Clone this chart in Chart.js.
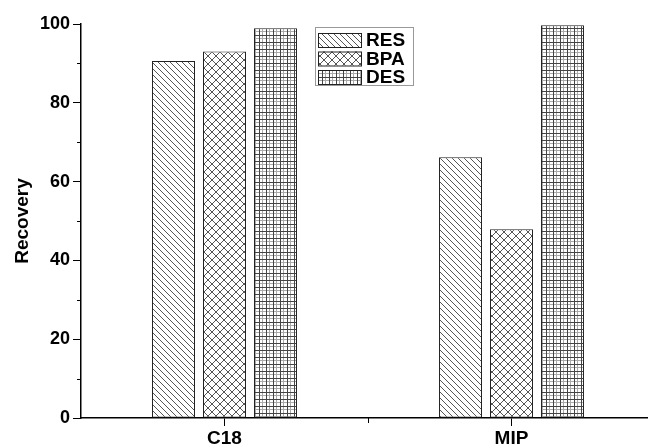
<!DOCTYPE html>
<html>
<head>
<meta charset="utf-8">
<script src="https://cdn.jsdelivr.net/npm/chart.js@4"></script>
<style>
  html, body { margin: 0; padding: 0; background: #fff; overflow: hidden; }
  #chart { display: block; }
</style>
</head>
<body>
<canvas id="chart" width="656" height="448"></canvas>
<script>
var categories = ["C18", "MIP"];
var seriesNames = ["RES", "BPA", "DES"];
var resValues = [90.6, 66.2];
var bpaValues = [93.0, 47.9];
var desValues = [98.9, 99.7];
var yTicks = [0, 20, 40, 60, 80, 100];

var font = "'Liberation Sans', Arial, sans-serif";

// small tiles for the hatch fills
function makePattern(kind) {
  var c = document.createElement("canvas");
  var ctx = c.getContext("2d");
  var s;
  if (kind == "diag") {
    s = 6;
    c.width = s; c.height = s;
    ctx.fillStyle = "#fff";
    ctx.fillRect(0, 0, s, s);
    ctx.strokeStyle = "#555";
    ctx.lineWidth = 1;
    ctx.beginPath();
    ctx.moveTo(-1, -1); ctx.lineTo(s + 1, s + 1);
    ctx.moveTo(-1, s - 1); ctx.lineTo(1, s + 1);
    ctx.moveTo(s - 1, -1); ctx.lineTo(s + 1, 1);
    ctx.stroke();
  } else if (kind == "cross") {
    s = 8;
    c.width = s; c.height = s;
    ctx.fillStyle = "#fff";
    ctx.fillRect(0, 0, s, s);
    ctx.strokeStyle = "#555";
    ctx.lineWidth = 1;
    ctx.beginPath();
    ctx.moveTo(0, 0); ctx.lineTo(s, s);
    ctx.moveTo(s, 0); ctx.lineTo(0, s);
    ctx.stroke();
  } else {
    s = 7;
    c.width = s; c.height = s;
    ctx.fillStyle = "#fff";
    ctx.fillRect(0, 0, s, s);
    ctx.fillStyle = "#aaa";
    ctx.fillRect(0, 3, s, 1);
    ctx.fillRect(3, 0, 1, s);
    ctx.fillStyle = "#444";
    ctx.fillRect(0, 0, s, 1);
    ctx.fillRect(0, 0, 1, s);
  }
  return ctx.createPattern(c, "repeat");
}

var fills = [makePattern("diag"), makePattern("cross"), makePattern("grid")];

// minor ticks on both axes + boxed legend inside the plot
var extras = {
  id: "extras",
  afterDraw: function (chart) {
    var ctx = chart.ctx;
    var x = chart.scales.x;
    var y = chart.scales.y;
    ctx.save();
    ctx.strokeStyle = "#000";
    ctx.lineWidth = 1;
    ctx.beginPath();
    for (var v = 10; v < 100; v += 20) {
      var py = Math.round(y.getPixelForValue(v)) + 0.5;
      ctx.moveTo(x.left - 4, py);
      ctx.lineTo(x.left, py);
    }
    var mid = Math.round((x.getPixelForValue(0) + x.getPixelForValue(1)) / 2) + 0.5;
    ctx.moveTo(mid, y.bottom);
    ctx.lineTo(mid, y.bottom + 5);
    ctx.stroke();

    // legend
    var lx = 315, ly = 27;
    ctx.strokeStyle = "#999";
    ctx.strokeRect(lx + 0.5, ly + 0.5, 98, 58);
    ctx.font = "bold 19px " + font;
    ctx.textBaseline = "middle";
    chart.data.datasets.forEach(function (ds, i) {
      var cy = 40 + i * 18.5;
      ctx.fillStyle = ds.backgroundColor;
      ctx.fillRect(318, cy - 7, 43, 14);
      ctx.strokeStyle = "#222";
      ctx.strokeRect(318.5, cy - 6.5, 43, 14);
      ctx.fillStyle = "#000";
      ctx.fillText(ds.label, 366, cy + 1);
    });
    ctx.restore();
  },
};

var chart = document.getElementById("chart");

new Chart(chart, {
  type: "bar",
  data: {
    labels: categories,
    datasets: [
      { label: seriesNames[0], data: resValues, backgroundColor: fills[0] },
      { label: seriesNames[1], data: bpaValues, backgroundColor: fills[1] },
      { label: seriesNames[2], data: desValues, backgroundColor: fills[2] },
    ],
  },
  options: {
    responsive: false,
    animation: false,
    layout: { padding: { top: 24, right: 1, left: 0, bottom: 0 } },
    datasets: {
      bar: {
        categoryPercentage: 0.533,
        barPercentage: 0.843,
        borderColor: "#222",
        borderWidth: 1,
        borderSkipped: false,
      },
    },
    plugins: {
      legend: { display: false },
      tooltip: { enabled: false },
    },
    scales: {
      x: {
        grid: {
          offset: false,
          drawOnChartArea: false,
          tickLength: 8,
          tickColor: "#000",
        },
        border: { display: true, color: "#000", width: 1.5 },
        ticks: {
          color: "#000",
          padding: 1,
          font: { family: font, size: 19, weight: "bold" },
        },
        afterFit: function (scale) {
          scale.height = 30;
        },
      },
      y: {
        min: 0,
        max: 100,
        afterBuildTicks: function (scale) {
          scale.ticks = yTicks.map(function (v) {
            return { value: v };
          });
        },
        grid: {
          drawOnChartArea: false,
          tickLength: 8,
          tickColor: "#000",
        },
        border: { display: true, color: "#000", width: 1.5 },
        ticks: {
          color: "#000",
          padding: 3,
          font: { family: font, size: 18, weight: "bold" },
        },
        title: {
          display: true,
          text: "Recovery",
          color: "#000",
          padding: { top: 11, bottom: 0 },
          font: { family: font, size: 19, weight: "bold" },
        },
        afterFit: function (scale) {
          scale.width = 81;
        },
      },
    },
  },
  plugins: [extras],
});
</script>
</body>
</html>
